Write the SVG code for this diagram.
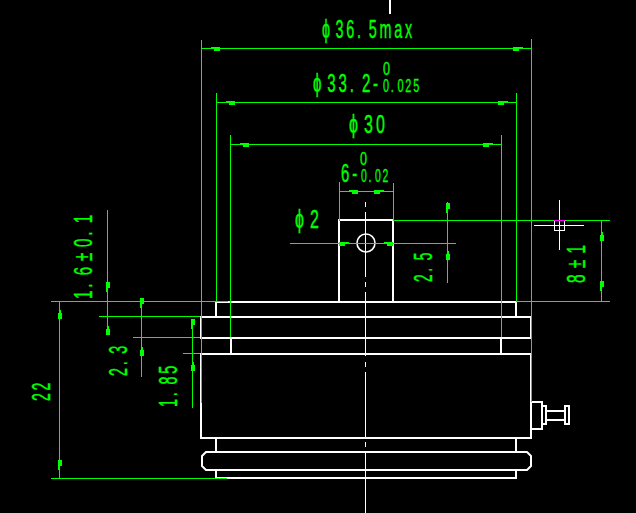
<svg xmlns="http://www.w3.org/2000/svg" width="636" height="513" viewBox="0 0 636 513">
<style>
.w{fill:none;stroke:#fff;stroke-width:2}
.c{fill:none;stroke:#fff;stroke-width:1}
.g{fill:none;stroke:#0f0;stroke-width:1}
.a{fill:#0f0;stroke:none}
text{fill:#0f0;stroke:#0f0;stroke-width:.4px;font-family:"Liberation Sans",sans-serif;font-size:26px;letter-spacing:5px}
text.s{font-size:18px;letter-spacing:3px;stroke-width:.3px}
text.n{letter-spacing:0}
</style>
<defs>
<path id="ar" d="M0 -.5L7 -1.500V-2H13V2H7V1Z" class="a"/>
</defs>
<rect width="636" height="513" fill="#000"/>
<g id="part" shape-rendering="crispEdges">
<path class="w" d="M390 0V14M339 301V220H394M393 220V301M216 316V302H516V316M201 316V338M531 316V338M200 317H532M200 338H532M231 338V354M501 338V354M200 354H532M201 353V439M531 353V439M200 438H532M216 438V452M516 438V452M216 470V479M516 470V479M215 478H517"/>
<path class="c" d="M365.500 202V207M365.500 212V277M365.500 282V287M365.500 292V356M365.500 362V367M365.500 372V437M365.500 442V447M365.500 452V513"/>
<path class="w" d="M531 402H542V429H531M542 406H546V424H542M546 411H565M546 420H565M565 406H569V424H565Z"/>
</g>
<g id="pill">
<path class="w" d="M206 452H527L531 456V466L527 470H206L202 466V456Z" stroke-linejoin="round"/>
<circle class="w" cx="366" cy="243" r="9" style="stroke-width:1.600"/>
</g>
<g id="connectors" shape-rendering="crispEdges">
<path class="g" d="M201.500 40V403M531.500 39V402M216.500 93V301M516.500 93V301M230.500 135V337M501.500 135V337M339.500 182V221M393.500 183V221M202 48.500H531M217 102.500H516M231 144.500H501M340 191.500H393M393 220.500H610M290 243.500H456M447.500 202V283M601.500 221V301M516 301.500H610M51 301.500H228M99 316.500H200M133 337.500H200M183 353.500H200M51 478.500H227M107.500 210V334M141.500 298V377M192.500 319V408M59.500 301V478"/>
<use href="#ar" transform="translate(207 48.500)"/>
<use href="#ar" transform="translate(526 48.500) scale(-1 1)"/>
<use href="#ar" transform="translate(222 102.500)"/>
<use href="#ar" transform="translate(511 102.500) scale(-1 1)"/>
<use href="#ar" transform="translate(236 144.500)"/>
<use href="#ar" transform="translate(496 144.500) scale(-1 1)"/>
<use href="#ar" transform="translate(345 191.500)"/>
<use href="#ar" transform="translate(387 191.500) scale(-1 1)"/>
<use href="#ar" transform="translate(352 243.500) scale(-1 1)"/>
<use href="#ar" transform="translate(380 243.500)"/>
<use href="#ar" transform="translate(447.500 216) rotate(-90)"/>
<use href="#ar" transform="translate(447.500 247) rotate(90)"/>
<use href="#ar" transform="translate(601.500 228) rotate(90)"/>
<use href="#ar" transform="translate(601.500 294) rotate(-90)"/>
<use href="#ar" transform="translate(107.500 295) rotate(-90)"/>
<use href="#ar" transform="translate(107.500 322) rotate(90)"/>
<use href="#ar" transform="translate(141.500 311) rotate(-90)"/>
<use href="#ar" transform="translate(141.500 343) rotate(90)"/>
<use href="#ar" transform="translate(192.500 332) rotate(-90)"/>
<use href="#ar" transform="translate(192.500 358) rotate(90)"/>
<use href="#ar" transform="translate(59.500 306) rotate(90)"/>
<use href="#ar" transform="translate(59.500 473) rotate(-90)"/>
</g>
<g id="labels">
<text x="322" y="38" textLength="93" lengthAdjust="spacingAndGlyphs" dx="0 5 0 0 9">ϕ36.5max</text>
<text x="313" y="92" textLength="68" lengthAdjust="spacingAndGlyphs" dx="0 5 0 0 9">ϕ33.2-</text>
<text class="s n" x="383" y="75" textLength="7" lengthAdjust="spacingAndGlyphs">0</text>
<text class="s" x="383" y="92" textLength="38" lengthAdjust="spacingAndGlyphs" dx="0 0 3">0.025</text>
<text x="349" y="133" textLength="39" lengthAdjust="spacingAndGlyphs" dx="0 5">ϕ30</text>
<text class="s n" x="360" y="165" textLength="7" lengthAdjust="spacingAndGlyphs">0</text>
<text x="341" y="182" textLength="19" lengthAdjust="spacingAndGlyphs">6-</text>
<text class="s" x="361" y="182" textLength="29" lengthAdjust="spacingAndGlyphs" dx="0 0 3">0.02</text>
<text x="295" y="228" textLength="27" lengthAdjust="spacingAndGlyphs" dx="0 5">ϕ2</text>
<text transform="translate(432 282) rotate(-90)" textLength="32" lengthAdjust="spacingAndGlyphs" dx="0 0 9">2.5</text>
<text transform="translate(585 283) rotate(-90)" textLength="41" lengthAdjust="spacingAndGlyphs" dx="0 5 5">8±1</text>
<text transform="translate(92 299) rotate(-90)" textLength="87" lengthAdjust="spacingAndGlyphs" dx="0 0 9 5 5 0 9">1.6±0.1</text>
<text transform="translate(127 376) rotate(-90)" textLength="33" lengthAdjust="spacingAndGlyphs" dx="0 0 9">2.3</text>
<text transform="translate(177 407) rotate(-90)" textLength="44" lengthAdjust="spacingAndGlyphs" dx="0 0 9">1.85</text>
<text transform="translate(50 401) rotate(-90)" textLength="21" lengthAdjust="spacingAndGlyphs">22</text>
</g>
<g id="cursor" shape-rendering="crispEdges">
<path class="c" d="M534 225.500H584M559.500 200V250"/>
<rect x="554.500" y="220.500" width="10" height="10" class="c"/>
<path d="M554 220.500H565" stroke="#f0f" fill="none"/>
</g>
</svg>
